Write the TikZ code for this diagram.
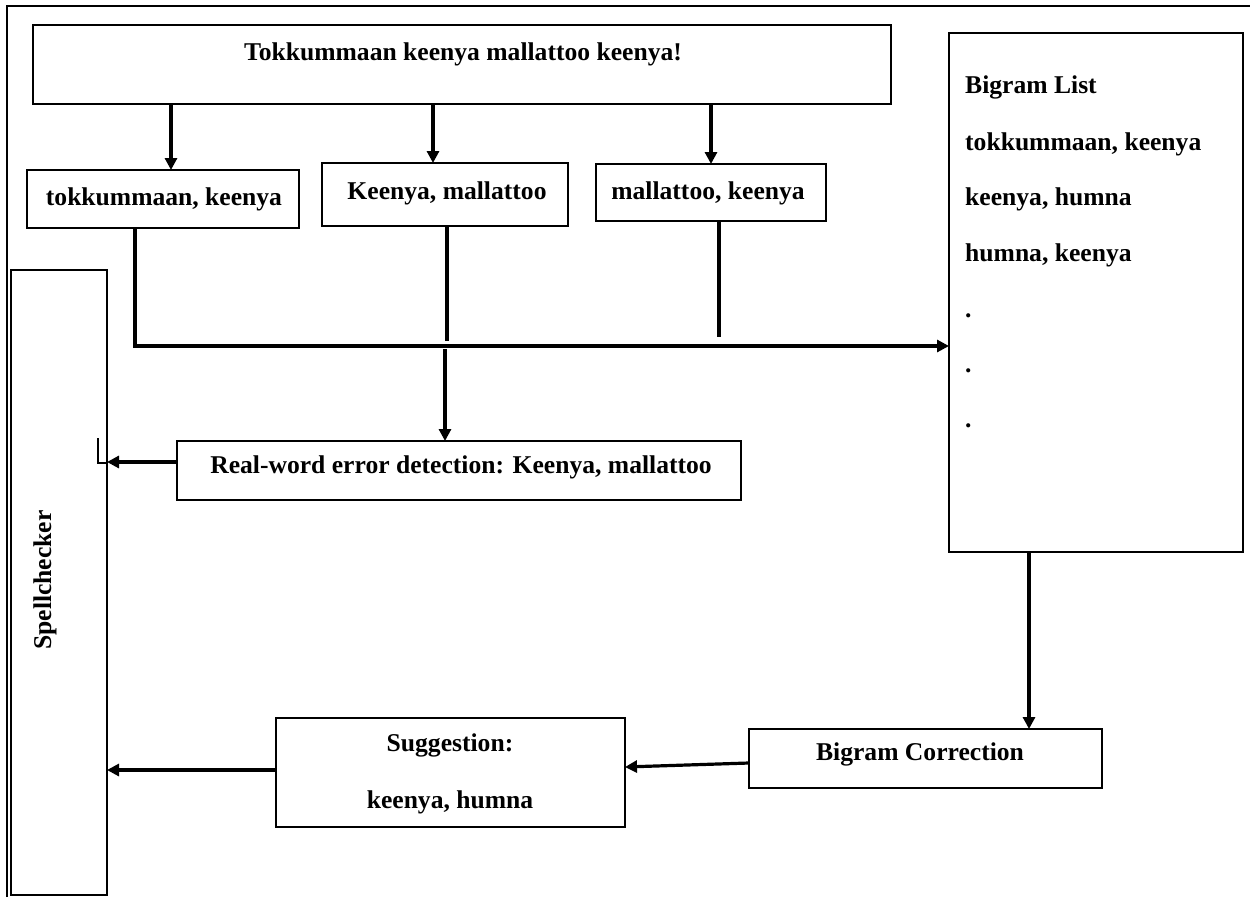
\documentclass[tikz,border=0pt]{standalone}
\usepackage{fontspec}
\setmainfont{Liberation Serif}
\usetikzlibrary{arrows.meta,calc}
\begin{document}
\begin{tikzpicture}[x=1pt,y=-1pt,
  box/.style={draw, line width=2pt, inner sep=0pt, outer sep=0pt},
  txt/.style={inner sep=0pt, font=\fontsize{25.6}{30}\selectfont\bfseries},
  conn/.style={line width=3.2pt},
  arr/.style={line width=3.2pt, -{Triangle[length=12pt,width=12pt]}},
  frame/.style={line width=2.4pt}]
\useasboundingbox (0,0) rectangle (1250,897);
% frame
\coordinate (f0) at (7,897);
\coordinate (f1) at (7,6);
\coordinate (f2) at (1250,6);
\draw[frame] (f0) -- (f1) -- (f2);
% boxes
\node[box, minimum width=858, minimum height=79] (top) at (462,64.5) {};
\node[box, minimum width=272, minimum height=58] (b1) at (163,199) {};
\node[box, minimum width=246, minimum height=63] (b2) at (445,194.5) {};
\node[box, minimum width=230, minimum height=57] (b3) at (711,192.5) {};
\node[box, minimum width=294, minimum height=519] (big) at (1096,292.5) {};
\node[box, minimum width=564, minimum height=59] (real) at (459,470.5) {};
\node[box, minimum width=353, minimum height=59] (corr) at (925.5,758.5) {};
\node[box, minimum width=349, minimum height=109] (sugg) at (450.5,772.5) {};
\node[box, minimum width=96, minimum height=625] (spell) at (59,582.5) {};
% texts
\node[txt, anchor=base] (ttop) at (463,60) {Tokkummaan keenya mallattoo keenya!};
\node[txt, anchor=base] (t1) at (164,205) {tokkummaan, keenya};
\node[txt, anchor=base] (t2) at (447,199) {Keenya, mallattoo};
\node[txt, anchor=base] (t3) at (708,199) {mallattoo, keenya};
\node[txt, anchor=base west] (l1) at (965,93) {Bigram List};
\node[txt, anchor=base west] (l2) at (965,150) {tokkummaan, keenya};
\node[txt, anchor=base west] (l3) at (965,205) {keenya, humna};
\node[txt, anchor=base west] (l4) at (965,261) {humna, keenya};
\node[txt, anchor=base west] (l5) at (965,317) {.};
\node[txt, anchor=base west] (l6) at (965,372) {.};
\node[txt, anchor=base west] (l7) at (965,427) {.};
\node[txt, anchor=base] (treal) at (461,473) {Real-word error detection: Keenya, mallattoo};
\node[txt, anchor=base] (tcorr) at (920,760) {Bigram Correction};
\node[txt, anchor=base] (ts1) at (450,751) {Suggestion:};
\node[txt, anchor=base] (ts2) at (450,808) {keenya, humna};
\node[txt, rotate=90] (tspell) at (45,580) {Spellchecker};
% connector helper coordinates
\coordinate (x1) at (171,0);
\coordinate (x2) at (433,0);
\coordinate (x3) at (711,0);
\coordinate (v1) at (135,0);
\coordinate (v2) at (447,0);
\coordinate (v3) at (719,0);
\coordinate (v4) at (445,0);
\coordinate (v5) at (1029,0);
\coordinate (hy) at (0,346);
\coordinate (e2) at (447,341);
\coordinate (e3) at (719,337);
\coordinate (s4) at (445,349);
% connectors
\draw[arr] (x1 |- top.south) -- (x1 |- b1.north);
\draw[arr] (x2 |- top.south) -- (x2 |- b2.north);
\draw[arr] (x3 |- top.south) -- (x3 |- b3.north);
\draw[arr] (v1 |- b1.south) -- (v1 |- hy) -- (big.west |- hy);
\draw[conn] (v2 |- b2.south) -- (e2);
\draw[conn] (v3 |- b3.south) -- (e3);
\draw[arr] (s4) -- (v4 |- real.north);
\draw[arr] (real.west |- 0,462) -- (spell.east |- 0,462);
\coordinate (m1) at (98,438);
\coordinate (m2) at (98,463);
\draw[line width=1.6pt] (m1) -- (m2) -- (spell.east |- m2);
\draw[arr] (v5 |- big.south) -- (v5 |- corr.north);
\coordinate (c1) at (749,763);
\coordinate (c2) at (625,767);
\draw[arr] (c1) -- (c2);
\draw[arr] (sugg.west |- 0,770) -- (spell.east |- 0,770);
\end{tikzpicture}
\end{document}
